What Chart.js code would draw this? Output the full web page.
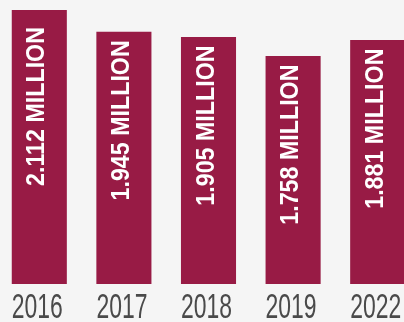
<!DOCTYPE html>
<html>
<head>
<meta charset="utf-8">
<script src="https://cdn.jsdelivr.net/npm/chart.js@4"></script>
<style>
  html, body { margin: 0; padding: 0; background: #f5f5f5; overflow: hidden; width: 404px; height: 322px; }
  #wrap { position: absolute; left: -3px; top: 0; width: 423px; height: 322px; }
</style>
</head>
<body>
<div id="wrap"><canvas id="c"></canvas></div>
<script>
const categories = ['2016', '2017', '2018', '2019', '2022'];
const values = [2.112, 1.945, 1.905, 1.758, 1.881];
const valueLabels = ['2.112 MILLION', '1.945 MILLION', '1.905 MILLION', '1.758 MILLION', '1.881 MILLION'];

const labelPlugin = {
  id: 'labels',
  afterDatasetsDraw(chart) {
    const ctx = chart.ctx;
    const meta = chart.getDatasetMeta(0);
    const xScale = chart.scales.x;
    // value labels inside bars, rotated
    meta.data.forEach((bar, i) => {
      ctx.save();
      const endY = Math.max(bar.y + 8.5, 27);
      ctx.translate(bar.x + 5, endY);
      ctx.rotate(-Math.PI / 2);
      ctx.scale(0.93, 1);
      ctx.font = 'bold 25px "Liberation Sans", Arial, sans-serif';
      ctx.fillStyle = '#ffffff';
      ctx.textAlign = 'right';
      ctx.textBaseline = 'alphabetic';
      ctx.fillText(valueLabels[i], 0, 0);
      ctx.restore();
    });
    // category labels under bars
    categories.forEach((cat, i) => {
      const x = xScale.getPixelForTick(i);
      ctx.save();
      ctx.translate(x - 2, 318);
      ctx.scale(0.655, 1);
      ctx.font = '35px "Liberation Sans", Arial, sans-serif';
      ctx.fillStyle = '#4a4a4a';
      ctx.textAlign = 'center';
      ctx.textBaseline = 'alphabetic';
      ctx.fillText(cat, 0, 0);
      ctx.restore();
    });
  }
};

new Chart(document.getElementById('c'), {
  type: 'bar',
  data: {
    labels: categories,
    datasets: [{
      data: values,
      backgroundColor: '#981b45',
      borderWidth: 0,
      categoryPercentage: 1.0,
      barPercentage: 0.651
    }]
  },
  options: {
    responsive: true,
    maintainAspectRatio: false,
    animation: false,
    events: [],
    layout: { padding: { top: 0, bottom: 38, left: 0, right: 0 } },
    plugins: { legend: { display: false }, tooltip: { enabled: false } },
    scales: {
      x: { display: false },
      y: { display: false, min: 0, max: 2.19 }
    }
  },
  plugins: [labelPlugin]
});
</script>
</body>
</html>
